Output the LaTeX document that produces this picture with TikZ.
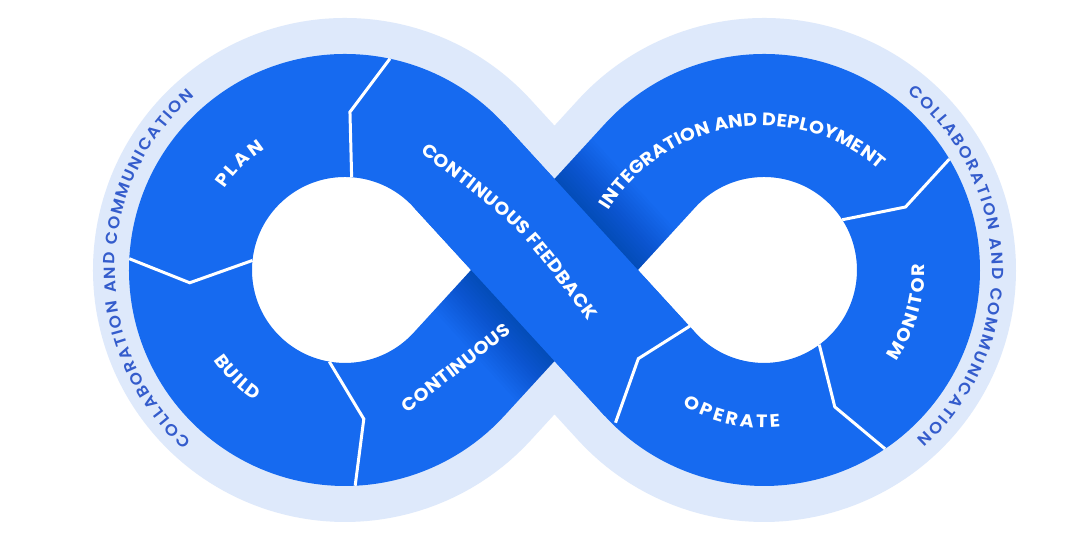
\documentclass[tikz,border=0pt]{standalone}
\usepackage{fontspec}
\setmainfont{Poppins}
\newfontfamily\lblfam{Poppins}[FakeStretch=1.06]
\newfontfamily\colfam{Poppins}[UprightFont={* SemiBold}, FakeStretch=1.06]
\usetikzlibrary{decorations.text}
\definecolor{loopblue}{RGB}{22,106,240}
\definecolor{halo}{RGB}{222,233,251}
\definecolor{collab}{RGB}{52,92,204}
\newcommand{\lblfont}{\lblfam\bfseries\fontsize{18}{20}\selectfont\color{white}}
\newcommand{\colfont}{\colfam\fontsize{16}{18}\selectfont\color{collab}}
\newcommand{\loopline}{(lt) arc[start angle=42.5, end angle=317.5, radius=154.5pt] -- (rt) arc[start angle=137.5, end angle=-137.5, radius=154.5pt] -- cycle}

\begin{document}
\begin{tikzpicture}[x=1pt, y=1pt,
  band/.style={draw=loopblue, line width=123pt},
  glow/.style={draw=halo, line width=195pt},
  cut/.style={draw=white, line width=3pt},
  lbl/.style={decorate, decoration={text along path, text={|\lblfont|#1},
    text align={fit to path}}},
  col/.style={decorate, decoration={text along path, text={|\colfont|#1},
    text align={fit to path}}}]
  \fill[white] (-554.5,-272) rectangle (525.5,270);
  \useasboundingbox (-554.5,-272) rectangle (525.5,270);
  \coordinate (lc) at (-209.5,0);
  \coordinate (rc) at (209.5,0);
  \coordinate (lt) at (-95.6,104.4);
  \coordinate (lb) at (-95.6,-104.4);
  \coordinate (rt) at (95.6,104.4);
  \coordinate (rb) at (95.6,-104.4);
  \coordinate (ltip) at (-83.4,0);
  \coordinate (rtip) at (83.4,0);

  % halo, holes, band
  \draw[glow] \loopline;
  \fill[white] (ltip) -- ([shift={(lc)}]42.5:93pt) arc[start angle=42.5, end angle=317.5, radius=93pt] -- cycle;
  \fill[white] (rtip) -- ([shift={(rc)}]137.5:93pt) arc[start angle=137.5, end angle=-137.5, radius=93pt] -- cycle;
  \draw[band] \loopline;

  % shadow of the top strip on the lower one
  \begin{scope}
    \clip (-140.9,-62.8) -- (50.3,146) -- (140.9,62.8) -- (-50.3,-146) -- cycle;
    \foreach \w in {125,131,...,233}
      \draw[line width=\w pt, draw=black, opacity=0.01] (lt) -- (rb);
  \end{scope}
  \draw[band] (lt) -- (rb);

  % dividers
  \draw[cut] ([shift={(lc)}]78:216pt) -- ([shift={(lc)}]88.2:158.1pt) -- ([shift={(lc)}]85.9:93pt);
  \draw[cut] ([shift={(lc)}]177:216pt) -- ([shift={(lc)}]184.7:155.8pt) -- ([shift={(lc)}]174.1:93pt);
  \draw[cut] ([shift={(lc)}]260.3:93pt) -- ([shift={(lc)}]277.2:150.2pt) -- ([shift={(lc)}]272.7:216pt);
  \draw[cut] ([shift={(rc)}]30.9:216pt) -- ([shift={(rc)}]24:154.9pt) -- ([shift={(rc)}]32.7:93pt);
  \draw[cut] ([shift={(rc)}]-53.5:93pt) -- ([shift={(rc)}]-62.65:154.1pt) -- ([shift={(rc)}]-55.9:216pt);
  \draw[cut] ([shift={(rc)}]217.1:93pt) -- ([shift={(rc)}]215.2:153.8pt) -- ([shift={(rc)}]225.8:213pt);

  % labels
  \path[lbl=PLAN] ([shift={(lc)}]146:145.5pt) arc[start angle=146, end angle=123.5, radius=145.5pt];
  \path[lbl=BUILD] ([shift={(lc)}]214.5:159pt) arc[start angle=214.5, end angle=235.5, radius=159pt];
  \path[lbl=CONTINUOUS] (-147.2,-143.4) -- (-42.8,-62.7);
  \path[lbl={CONTINUOUS FEEDBACK}] (-134.5,118) .. controls (-36,44) .. (33.5,-51);
  \path[lbl={INTEGRATION AND DEPLOYMENT}] ([shift={(207,-35.5)}]148:180pt) arc[start angle=148, end angle=49, radius=180pt];
  \path[lbl=MONITOR] ([shift={(rc)}]-34.6:161pt) arc[start angle=-34.6, end angle=2, radius=161pt];
  \path[lbl=OPERATE] ([shift={(rc)}]239:158pt) arc[start angle=239, end angle=276, radius=158pt];
  \path[col={COLLABORATION AND COMMUNICATION}] ([shift={(lc)}]228.1:230pt) arc[start angle=228.1, end angle=130.9, radius=230pt];
  \path[col={COLLABORATION AND COMMUNICATION}] ([shift={(rc)}]51:228pt) arc[start angle=51, end angle=-47.9, radius=228pt];
\end{tikzpicture}
\end{document}
